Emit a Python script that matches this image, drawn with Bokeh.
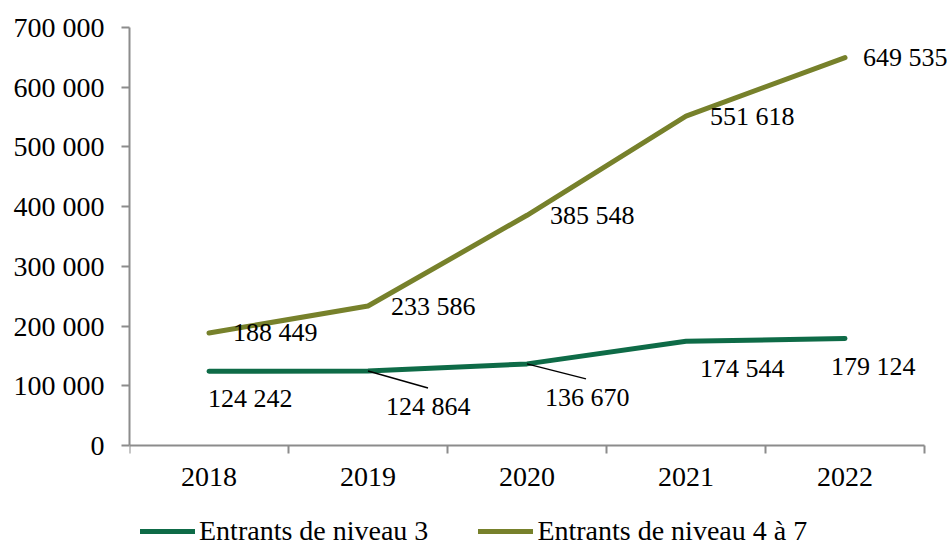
from bokeh.plotting import figure
from bokeh.models import (ColumnDataSource, FixedTicker, LabelSet, Legend, LegendItem,
                          Range1d, Segment)
from bokeh.embed import file_html
from bokeh.resources import INLINE

# ---- data ----
years = ["2018", "2019", "2020", "2021", "2022"]
niveau3 = [124242, 124864, 136670, 174544, 179124]
niveau4_7 = [188449, 233586, 385548, 551618, 649535]
y_ticks = [0, 100000, 200000, 300000, 400000, 500000, 600000, 700000]
series_names = ["Entrants de niveau 3", "Entrants de niveau 4 à 7"]

# ---- style ----
GREEN = "#0E6B47"
OLIVE = "#77812B"
AXIS = "#8C8C8C"
FONT = "Liberation Serif"

W, H = 947, 545
FL, FT = 129, 27
AX_W = 795                      # width of the x axis in px
AX_H = 418                      # height of the y axis (0..700 000) in px
FRAME_W = W - FL
FRAME_H = H - FT
n = len(years)
Y_MAX = y_ticks[-1]
px_x = n / AX_W                 # data units per pixel (x)
px_y = Y_MAX / AX_H             # data units per pixel (y)
x_end = FRAME_W * px_x
y_start = -(FRAME_H - AX_H) * px_y

def fmt(v):
    return f"{v:,}".replace(",", " ")

xs = [i + 0.5 for i in range(n)]

p = figure(frame_width=FRAME_W, frame_height=FRAME_H, output_backend="svg",
           toolbar_location=None,
           x_range=Range1d(0, x_end), y_range=Range1d(y_start, Y_MAX),
           min_border_left=FL, min_border_right=0, min_border_top=FT,
           min_border_bottom=0)
p.outline_line_color = None
p.xgrid.visible = False
p.ygrid.visible = False
p.background_fill_color = "white"
p.border_fill_color = "white"

# x axis at y = 0: labels at category centres, tick marks at boundaries
p.xaxis.fixed_location = 0
p.xaxis.ticker = FixedTicker(ticks=xs, minor_ticks=list(range(n + 1)))
p.xaxis.major_label_overrides = {x: y for x, y in zip(xs, years)}
p.xaxis.bounds = (0, n)
p.xaxis.major_tick_out = 0
p.xaxis.major_tick_in = 0
p.xaxis.minor_tick_out = 8
p.xaxis.minor_tick_in = 0
p.xaxis.minor_tick_line_color = AXIS
p.xaxis.minor_tick_line_width = 2
p.xaxis.major_label_standoff = 14

p.yaxis.ticker = FixedTicker(ticks=y_ticks)
p.yaxis.major_label_overrides = {v: fmt(v) for v in y_ticks}
p.yaxis.bounds = (0, Y_MAX)
p.yaxis.major_tick_out = 8
p.yaxis.major_tick_in = 0
p.yaxis.minor_tick_line_color = None
p.yaxis.major_label_standoff = 17

for ax in (p.xaxis, p.yaxis):
    ax.axis_line_color = AXIS
    ax.axis_line_width = 2
    ax.major_tick_line_color = AXIS
    ax.major_tick_line_width = 2
    ax.major_label_text_font = FONT
    ax.major_label_text_font_size = "28px"
    ax.major_label_text_color = "black"

r3 = p.line(xs, niveau3, line_color=GREEN, line_width=5, line_cap="round", line_join="round")
r47 = p.line(xs, niveau4_7, line_color=OLIVE, line_width=5, line_cap="round", line_join="round")

# data labels
off47_x = [24, 23, 23, 24, 18]
off47_y = [0, 0, 0, 0, 0]
src47 = ColumnDataSource(dict(x=xs, y=niveau4_7, t=[fmt(v) for v in niveau4_7],
                              xo=off47_x, yo=off47_y))
p.add_layout(LabelSet(x="x", y="y", text="t", source=src47, x_offset="xo", y_offset="yo",
                      text_font=FONT, text_font_size="26px", text_baseline="middle",
                      text_align="left", text_color="black"))

off3_x = [-1, 18, 18, 14, -14]
off3_y = [-27, -36, -34, -27, -28]
src3 = ColumnDataSource(dict(x=xs, y=niveau3, t=[fmt(v) for v in niveau3],
                             xo=off3_x, yo=off3_y))
p.add_layout(LabelSet(x="x", y="y", text="t", source=src3, x_offset="xo", y_offset="yo",
                      text_font=FONT, text_font_size="26px", text_baseline="middle",
                      text_align="left", text_color="black"))

# leader lines for 2019 and 2020 (green series)
lead_idx = [1, 2]
lead_dx = [60, 59]
lead_dy = [17, 15]
seg_src = ColumnDataSource(dict(
    x0=[xs[i] for i in lead_idx],
    y0=[niveau3[i] for i in lead_idx],
    x1=[xs[i] + dx * px_x for i, dx in zip(lead_idx, lead_dx)],
    y1=[niveau3[i] - dy * px_y for i, dy in zip(lead_idx, lead_dy)],
))
p.add_glyph(seg_src, Segment(x0="x0", y0="y0", x1="x1", y1="y1",
                             line_color="black", line_width=1.5))

legend = Legend(items=[LegendItem(label=series_names[0], renderers=[r3]),
                       LegendItem(label=series_names[1], renderers=[r47])],
                orientation="horizontal", location=(11, -2),
                label_text_font=FONT, label_text_font_size="28px",
                label_text_color="black", label_height=26,
                glyph_width=55, glyph_height=26, label_standoff=4, spacing=50,
                padding=0, margin=0, border_line_color=None,
                background_fill_alpha=0)
p.add_layout(legend, "center")

open("out.html", "w").write(file_html(p, INLINE))
